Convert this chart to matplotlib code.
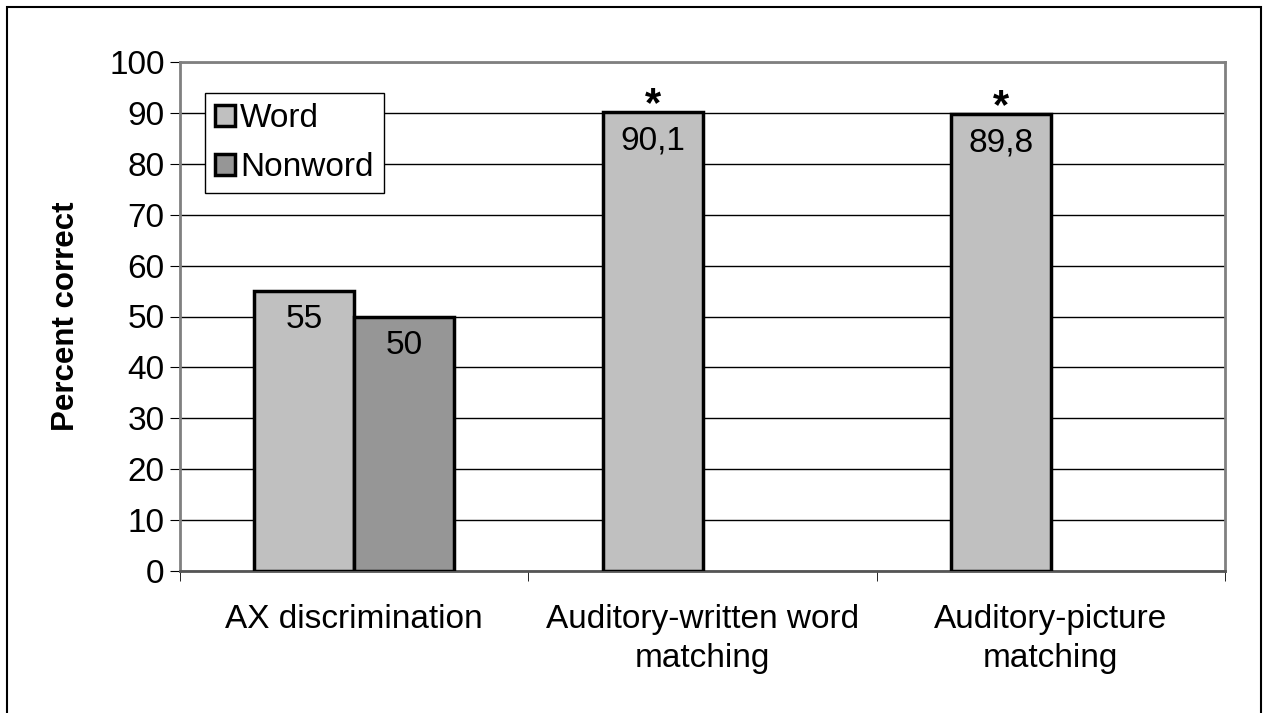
import numpy as np
import matplotlib.pyplot as plt
from matplotlib.patches import Rectangle

plt.rcParams['font.family'] = ['Liberation Sans', 'DejaVu Sans']

categories = ['AX discrimination', 'Auditory-written word\nmatching', 'Auditory-picture\nmatching']
word = [55, 90.1, 89.8]
nonword = [50, np.nan, np.nan]
word_labels = ['55', '90,1', '89,8']
nonword_labels = ['50', '', '']
starred = [False, True, True]

fig = plt.figure(figsize=(12.66, 7.13), dpi=100)
fig.patches.append(Rectangle((7 / 1266, -0.01), (1261 - 7) / 1266, 1 - 7 / 713 + 0.01,
                             transform=fig.transFigure, fill=False, ec='black', lw=1.5))
ax = fig.add_axes([180 / 1266, 1 - 571 / 713, (1225 - 180) / 1266, (571 - 62) / 713])

x = np.arange(len(categories))
w = 0.287
ax.bar(x - w / 2, word, w, color='#c0c0c0', edgecolor='black', lw=2.5, label='Word', zorder=3)
ax.bar(x + w / 2, nonword, w, color='#969696', edgecolor='black', lw=2.5, label='Nonword', zorder=3)

for i in range(len(categories)):
    ax.text(x[i] - w / 2, word[i] - 2.6, word_labels[i], ha='center', va='top', fontsize=24, zorder=4)
    if nonword_labels[i]:
        ax.text(x[i] + w / 2, nonword[i] - 2.6, nonword_labels[i], ha='center', va='top', fontsize=24, zorder=4)
    if starred[i]:
        ax.text(x[i] - w / 2, word[i] - 2.5, '*', ha='center', va='bottom', fontsize=30,
                fontweight='bold', zorder=4)

ax.set_xlim(-0.5, len(categories) - 0.5)
ax.set_ylim(0, 100)
ax.set_yticks(range(0, 101, 10))
ax.tick_params(axis='y', labelsize=24, length=7, direction='out', color='black', pad=4)
ax.set_xticks(x)
ax.set_xticklabels(categories, fontsize=24, linespacing=1.3)
ax.tick_params(axis='x', length=0, pad=24)
ax.set_xticks(np.arange(-0.5, len(categories)), minor=True)
ax.tick_params(axis='x', which='minor', length=7, direction='out')
ax.yaxis.grid(True, color='black', lw=1, zorder=0)
for s in ['top', 'right', 'left']:
    ax.spines[s].set_color('#808080')
    ax.spines[s].set_linewidth(2)
ax.spines['bottom'].set_color('#555555')
ax.spines['bottom'].set_linewidth(2)
ax.set_ylabel('Percent correct', fontsize=22.5, fontweight='bold', labelpad=20)

leg = ax.legend(loc='upper left', bbox_to_anchor=(25 / 1045, 1 - 31 / 509), fontsize=24,
                frameon=True, fancybox=False, edgecolor='black', framealpha=1,
                handlelength=0.6, handleheight=0.6, handletextpad=0.15, borderpad=0.3,
                labelspacing=0.55, borderaxespad=0)
leg.get_frame().set_linewidth(1)
leg.set_zorder(5)

fig.savefig('out.png', dpi=100)
